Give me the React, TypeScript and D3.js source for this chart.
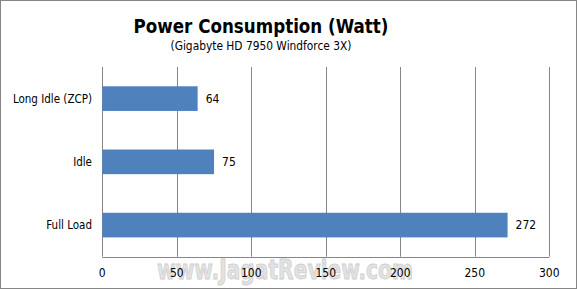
import React from "react";
import * as d3 from "d3";

const categories = ["Long Idle (ZCP)", "Idle", "Full Load"];
const values = [64, 75, 272];
const xTicks = [0, 50, 100, 150, 200, 250, 300];
const titleText = "Power Consumption (Watt)";
const subtitleText = "(Gigabyte HD 7950 Windforce 3X)";
const watermark = "www.JagatReview.com";

const W = 577;
const H = 289;
const left = 102.3;
const right = 549.3;
const top = 67;
const bottom = 256.7;

export default function App() {
  const x = d3.scaleLinear().domain([0, 300]).range([left, right]);
  const y = d3.scaleBand<string>().domain(categories).range([top, bottom]).paddingInner(0.61).paddingOuter(0.305);
  const font = "Tahoma, 'DejaVu Sans Condensed', sans-serif";
  return (
    <svg width={W} height={H} style={{ position: "absolute", left: 0, top: 0 }}>
      <rect x={0} y={0} width={W} height={H} fill="#fff" />
      <rect x={0.5} y={0.5} width={W - 1} height={H - 1} fill="none" stroke="#868686" />
      <text x={261} y={33} textAnchor="middle" fontFamily="'DejaVu Sans Condensed', 'DejaVu Sans', sans-serif" fontWeight="bold" fontSize={20} textLength={255} lengthAdjust="spacingAndGlyphs" fill="#000">{titleText}</text>
      <text x={261} y={50} textAnchor="middle" fontFamily="'DejaVu Sans Condensed', 'DejaVu Sans', sans-serif" fontSize={12} textLength={181} lengthAdjust="spacingAndGlyphs" fill="#000">{subtitleText}</text>
      {xTicks.map((t) => (
        <line key={t} x1={Math.round(x(t)) + 0.5} x2={Math.round(x(t)) + 0.5} y1={top} y2={bottom} stroke="#868686" />
      ))}
      <line x1={left} x2={right} y1={Math.round(bottom) + 0.5} y2={Math.round(bottom) + 0.5} stroke="#868686" />
      <text x={285} y={279} textAnchor="middle" fontFamily="'DejaVu Sans Condensed', 'DejaVu Sans', sans-serif" fontWeight="bold" fontSize={26} textLength={256} lengthAdjust="spacingAndGlyphs" fill="#dcdcdc" stroke="#c4c4c4" strokeWidth={0.8} opacity={0.8}>{watermark}</text>
      {categories.map((c, i) => (
        <g key={c}>
          <rect x={x(0)} y={y(c)!} width={x(values[i]) - x(0)} height={y.bandwidth()} fill="#4F81BD" />
          <text x={x(values[i]) + 8} y={y(c)! + y.bandwidth() / 2} dominantBaseline="central" fontFamily={font} fontSize={12} fill="#000">{values[i]}</text>
          <text x={92} y={y(c)! + y.bandwidth() / 2} dominantBaseline="central" textAnchor="end" fontFamily={font} fontSize={11.5} fill="#000">{c}</text>
        </g>
      ))}
      {xTicks.map((t) => (
        <text key={t} x={x(t)} y={273} dominantBaseline="central" textAnchor="middle" fontFamily={font} fontSize={12} fill="#000">{t}</text>
      ))}
    </svg>
  );
}
